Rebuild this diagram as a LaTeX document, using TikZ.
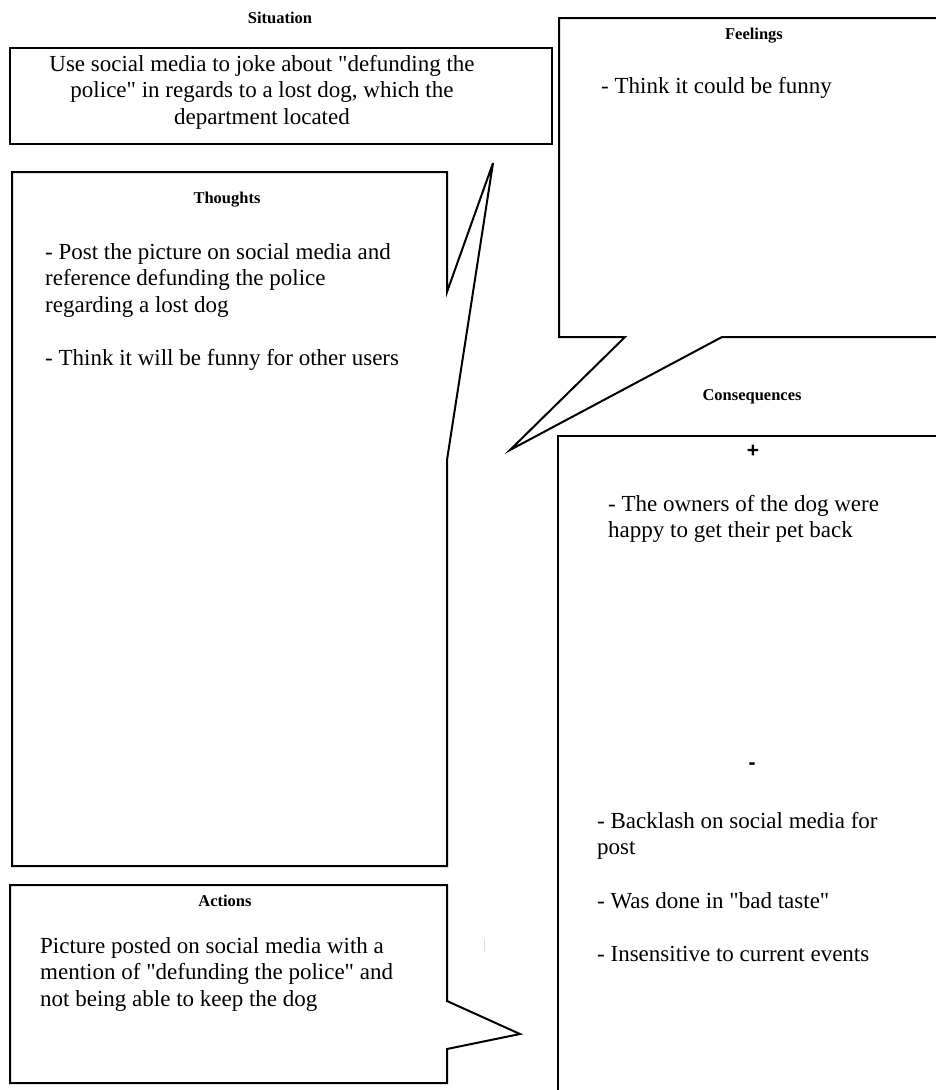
\documentclass[tikz,border=0pt]{standalone}
\usepackage{fontspec}
\setmainfont{Liberation Serif}[Ligatures=TeXOff]
\newfontfamily\signfont{Liberation Sans}
\newfontfamily\quotefont{Liberation Serif}
\newcommand\dq{{\quotefont\symbol{34}}}
\newcommand\bodysize{\fontsize{23}{26.7}\selectfont}
\newcommand\labsize{\fontsize{16.5}{19}\selectfont\bfseries}
\newcommand\leftlines[1]{\parbox[t]{400pt}{\raggedright #1}}
\newcommand\midlines[1]{\parbox[t]{520pt}{\centering #1}}
\begin{document}
\begin{tikzpicture}[x=1pt,y=-1pt,
  outline/.style={draw=black, line width=2pt, line join=miter},
  body/.style={inner sep=0pt, anchor=base west, font=\bodysize},
  bodymid/.style={inner sep=0pt, anchor=base, font=\bodysize},
  lab/.style={inner sep=0pt, anchor=base, font=\labsize},
  sign/.style={inner sep=0pt, anchor=base, font=\signfont\fontsize{21}{24}\selectfont\bfseries}]
\clip (0,0) rectangle (936,1090);
\fill[white] (0,0) rectangle (936,1090);

% Situation
\node[lab] (sitlab) at (280,23) {Situation};
\draw[outline] (10,48) rectangle (552,144);
\node[bodymid] (sittext) at (262,71) {\midlines{Use social media to joke about \dq defunding the\\ police\dq{} in regards to a lost dog, which the\\ department located}};

% Feelings (callout pointing down-left)
\draw[outline] (945,18) -- (559,18) -- (559,337) -- (625,337) -- (510,450) -- (722,337) -- (945,337);
\node[lab] (feellab) at (754,39) {Feelings};
\node[body] (feeltext) at (601,93) {- Think it could be funny};

% Thoughts (callout pointing up-right)
\draw[outline] (447,292) -- (447,172) -- (12,172) -- (12,866) -- (447,866) -- (447,460) -- (493,163) -- cycle;
\node[lab] (thlab) at (227,203) {Thoughts};
\node[body] (thtext) at (45,259) {\leftlines{- Post the picture on social media and\\ reference defunding the police\\ regarding a lost dog\\[26.7pt] - Think it will be funny for other users}};

% Consequences
\node[lab] (conlab) at (752,400) {Consequences};
\draw[outline] (945,436) -- (558,436) -- (558,1100);
\node[sign] (plus) at (753,457) {+};
\node[sign] (minus) at (752,769) {-};
\node[body] (postext) at (608,511) {\leftlines{- The owners of the dog were\\ happy to get their pet back}};
\node[body] (negtext) at (597,828) {\leftlines{- Backlash on social media for\\ post\\[26.7pt] - Was done in \dq bad taste\dq\\[26.7pt] - Insensitive to current events}};

% Actions (callout pointing right)
\draw[outline] (447,1001) -- (447,885) -- (10,885) -- (10,1083) -- (447,1083) -- (447,1049) -- (520,1034) -- cycle;
\node[lab] (actlab) at (225,906) {Actions};
\node[body] (acttext) at (40,953) {\leftlines{Picture posted on social media with a\\ mention of \dq defunding the police\dq{} and\\ not being able to keep the dog}};

% faint mark
\draw[black!12, line width=1pt] (484,939) -- (484,952);
\end{tikzpicture}
\end{document}
